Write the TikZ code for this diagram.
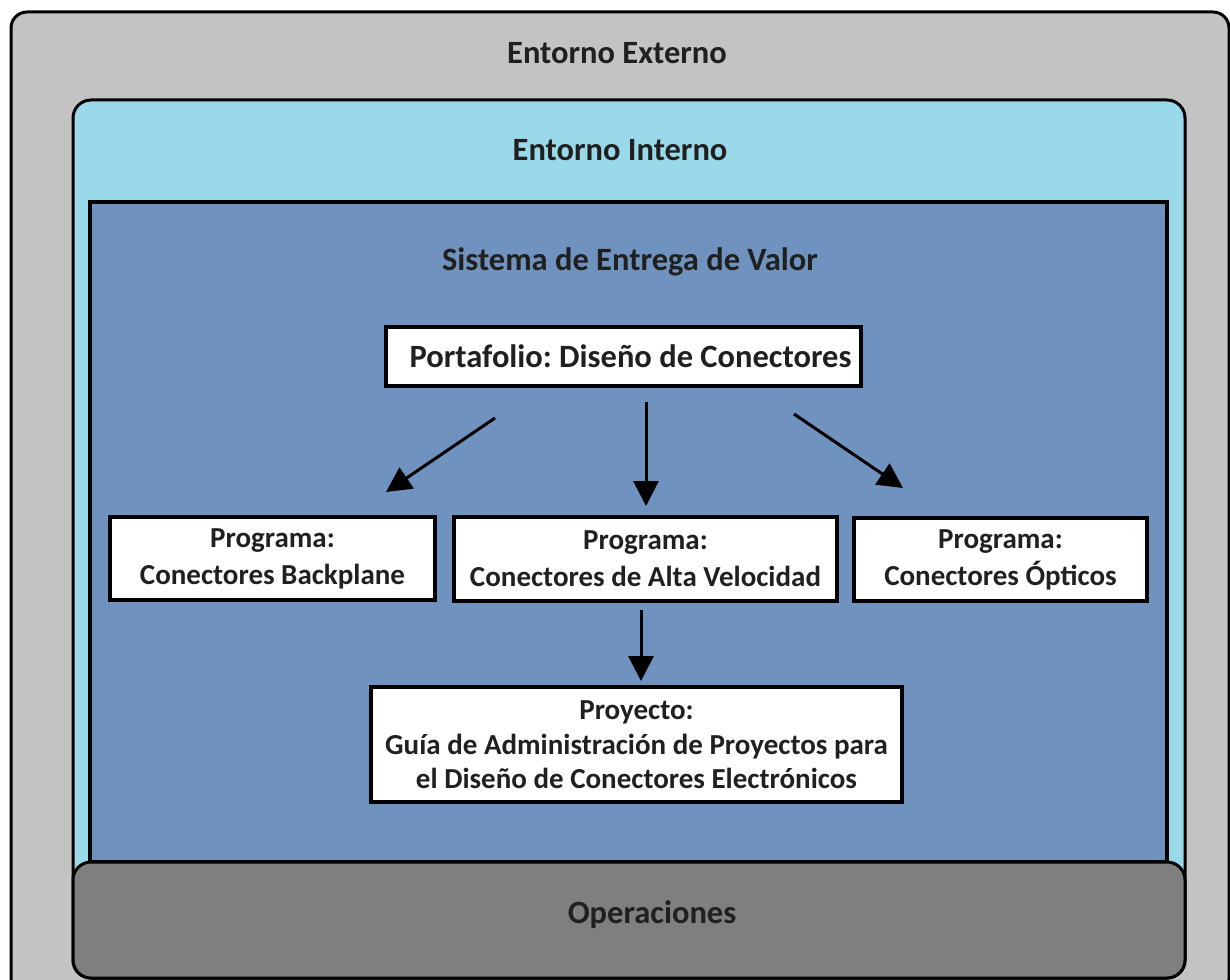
\documentclass[tikz,border=0pt]{standalone}
\usepackage{fontspec}
\setmainfont{Carlito}
\usetikzlibrary{arrows.meta}
\frenchspacing
\definecolor{extgray}{RGB}{195,195,195}
\definecolor{intblue}{RGB}{153,217,234}
\definecolor{valblue}{RGB}{112,146,190}
\definecolor{opsgray}{RGB}{127,127,127}
\definecolor{ink}{RGB}{32,32,32}
\tikzset{
  layer/.style={draw=black, line width=3pt},
  title/.style={font=\bfseries\fontsize{32.5}{38}\selectfont, text=ink},
  card/.style={draw=black, line width=3.5pt, fill=white, align=center,
    font=\bfseries\fontsize{29}{37}\selectfont, text=ink, inner sep=0pt},
  flow/.style={line width=3pt, -{Triangle[length=25pt,width=25pt]}}
}
\begin{document}
\begin{tikzpicture}[x=1pt,y=-1pt]
\useasboundingbox (0,0) rectangle (1230,979);
% nested environments
\draw[layer, fill=extgray, rounded corners=16pt] (11,12) rectangle (1229,995);
\draw[layer, fill=intblue, rounded corners=18pt] (73,100) rectangle (1185,978);
\draw[line width=3.5pt, fill=valblue] (90,202) rectangle (1167,862);
\draw[layer, fill=opsgray, rounded corners=18pt] (73,862) rectangle (1185,978);
% layer titles
\node[title] (ext) at (617,53) {Entorno Externo};
\node[title] (int) at (620,150) {Entorno Interno};
\node[title] (svs) at (630,262) {Sistema de Entrega de Valor};
\node[title] (ops) at (652,915) {Operaciones};
% portfolio, programs and project
\node[card, minimum width=475pt, minimum height=59pt, font=\bfseries\fontsize{32.5}{38}\selectfont] (port) at (623.5,356.5) {\hspace*{14pt}Portafolio: Diseño de Conectores};
\node[card, minimum width=325pt, minimum height=83pt] (back) at (272.5,558.5) {Programa:\\Conectores Backplane};
\node[card, minimum width=383pt, minimum height=84pt] (alta) at (645.5,559) {Programa:\\Conectores de Alta Velocidad};
\node[card, minimum width=293pt, minimum height=83pt] (opt) at (1000.5,559.5) {Programa:\\Conectores Ópticos};
\node[card, minimum width=531pt, minimum height=115pt] (proy) at (636.5,744.5) {Proyecto:\\[-2pt]Guía de Administración de Proyectos para\\[-3pt]el Diseño de Conectores Electrónicos};
% arrow ends
\coordinate (pl) at (495,418);
\coordinate (bl) at (386,492);
\coordinate (pc) at (646,402);
\coordinate (ac) at (646,506);
\coordinate (pr) at (794,414);
\coordinate (or) at (903,488);
\coordinate (as) at (641,610);
\coordinate (ps) at (641,681);
\draw[flow] (pl) -- (bl);
\draw[flow] (pc) -- (ac);
\draw[flow] (pr) -- (or);
\draw[flow] (as) -- (ps);
\end{tikzpicture}
\end{document}
